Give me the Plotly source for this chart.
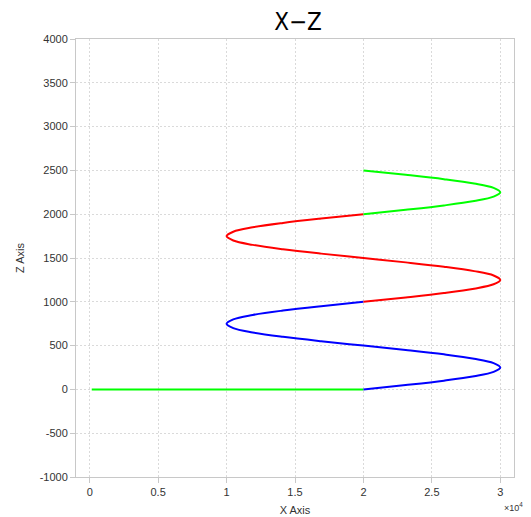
import plotly.graph_objects as go

# Data (x in raw units, z in raw units)
lead_x = [150, 20000]
lead_z = [0, 0]

# one loop of the helix projection, z relative to the start of a segment
loop_dz = [0, 50, 100, 150, 200, 250, 300, 350, 400, 450, 500,
           550, 600, 650, 700, 750, 800, 850, 900, 950, 1000]
loop_x = [20000, 23090, 25880, 28090, 29510, 30000, 29510, 28090, 25880, 23090, 20000,
          16910, 14120, 11910, 10490, 10000, 10490, 11910, 14120, 16910, 20000]

blue_z = [0 + d for d in loop_dz]
blue_x = loop_x
red_z = [1000 + d for d in loop_dz]
red_x = loop_x
green_z = [2000 + d for d in loop_dz[:11]]
green_x = loop_x[:11]

x_tickvals = [0, 5000, 10000, 15000, 20000, 25000, 30000]
x_ticktext = ["0", "0.5", "1", "1.5", "2", "2.5", "3"]
z_tickvals = [-1000, -500, 0, 500, 1000, 1500, 2000, 2500, 3000, 3500, 4000]
z_ticktext = ["-1000", "-500", "0", "500", "1000", "1500", "2000", "2500", "3000", "3500", "4000"]

fig = go.Figure()
line_w = 2
fig.add_trace(go.Scatter(x=lead_x, y=lead_z, mode="lines",
                         line=dict(color="#00ff00", width=line_w)))
fig.add_trace(go.Scatter(x=blue_x, y=blue_z, mode="lines",
                         line=dict(color="#0000ff", width=line_w, shape="spline")))
fig.add_trace(go.Scatter(x=red_x, y=red_z, mode="lines",
                         line=dict(color="#ff0000", width=line_w, shape="spline")))
fig.add_trace(go.Scatter(x=green_x, y=green_z, mode="lines",
                         line=dict(color="#00ff00", width=line_w, shape="spline")))

axis_common = dict(
    showline=True, linecolor="#c8c8c8", linewidth=1, mirror=True,
    ticks="outside", ticklen=5, tickcolor="#c8c8c8",
    showgrid=True, gridcolor="#dadada", griddash="2px,2px", gridwidth=1,
    zeroline=False, automargin=False,
    tickfont=dict(family="Liberation Sans, Arial", size=11, color="#333333"),
)

# page body has an 8px margin; figure is sized so the plot lands where the reference has it
fig.update_layout(
    width=523, height=509,
    margin=dict(l=68, r=17, t=31, b=40),
    paper_bgcolor="white", plot_bgcolor="white",
    showlegend=False,
    title=dict(text="X\u2212Z", x=(298 - 8) / 523, xanchor="center",
               y=1 - (22 - 8) / 509, yanchor="middle",
               font=dict(family="DejaVu Sans Condensed, DejaVu Sans", size=24, color="black")),
    xaxis=dict(range=[-1000, 31000], tickvals=x_tickvals, ticktext=x_ticktext,
               title=dict(text="X Axis", standoff=9,
                          font=dict(family="Liberation Sans, Arial", size=11, color="#333333")),
               **axis_common),
    yaxis=dict(range=[-1000, 4000], tickvals=z_tickvals, ticktext=z_ticktext,
               title=dict(text="Z Axis", standoff=12,
                          font=dict(family="Liberation Sans, Arial", size=11, color="#333333")),
               **axis_common),
)

fig.add_annotation(text="\u00d710<sup>4</sup>", xref="paper", yref="paper",
                   x=1.025, y=-0.068, xanchor="right", yanchor="middle", showarrow=False,
                   font=dict(family="Liberation Sans, Arial", size=9, color="#333333"))

fig.write_html("out.html")
